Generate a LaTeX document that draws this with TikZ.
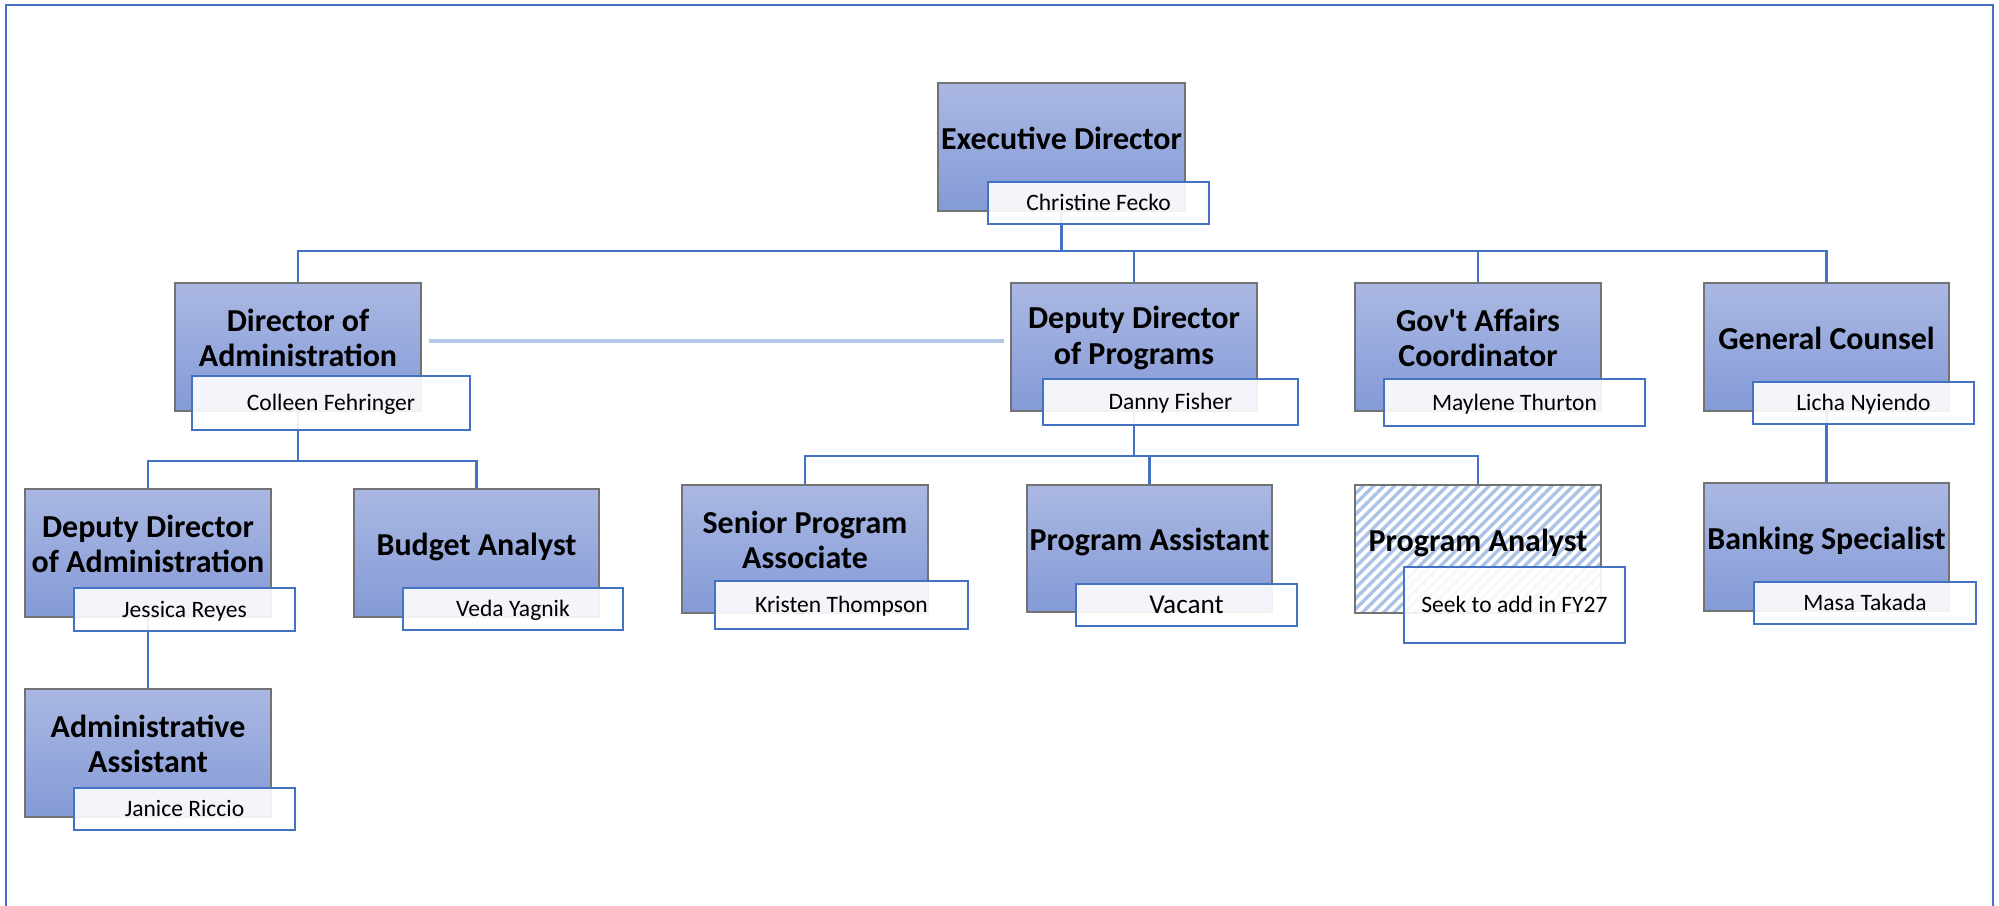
\documentclass[tikz,border=0pt]{standalone}
\usepackage{fontspec}
\setmainfont{Carlito}
\usetikzlibrary{fit,backgrounds}

\definecolor{linkblue}{RGB}{68,114,196}
\definecolor{paleblue}{RGB}{180,199,231}
\definecolor{boxtop}{RGB}{170,184,226}
\definecolor{boxbot}{RGB}{132,154,215}
\definecolor{boxedge}{RGB}{115,115,115}
\definecolor{stripeblue}{RGB}{172,194,231}

\begin{document}
\begin{tikzpicture}[x=0.02cm, y=-0.02cm,
  role/.style={inner sep=0pt, draw=boxedge, line width=0.025cm,
    top color=boxtop, bottom color=boxbot},
  openrole/.style={inner sep=0pt, draw=boxedge, line width=0.025cm, fill=white,
    path picture={
      \foreach \k in {0,...,40}
        \draw[stripeblue, line width=0.07cm]
          (path picture bounding box.south west) ++(\k*10.5-140,0) -- ++(145,-145);
    }},
  ttl/.style={font=\bfseries\fontsize{18.2}{20.2}\selectfont, align=center,
    inner sep=0pt, yshift=0.18cm},
  ttlone/.style={ttl, text depth=0pt},
  namebox/.style={inner sep=0pt, draw=linkblue, line width=0.026cm,
    fill=white, fill opacity=0.9},
  person/.style={inner sep=0pt, font=\fontsize{13.4}{16}\selectfont,
    text height=8.63pt, text depth=0pt},
  bigperson/.style={person, font=\fontsize{15.5}{18}\selectfont,
    text height=9.98pt},
  conn/.style={draw=linkblue, line width=0.052cm},
  link/.style={draw=paleblue, line width=0.08cm},
  frame/.style={draw=linkblue, line width=0.045cm},
]
\useasboundingbox (0,0) rectangle (1999,906);

% outer frame
\draw[frame] (6,912) -- (6,5) -- (1993,5) -- (1993,912);

% bus levels
\coordinate (topbus) at (0,251);
\coordinate (admbus) at (0,461);
\coordinate (progbus) at (0,456);

% top level
\node[role, fit={(938,83) (1185,211)}, label={[ttlone]center:Executive Director}] (ed) {};
\node[namebox, fit={(988,182) (1209,224)}, label={[person]center:Christine Fecko}] (edn) {};

% second level
\node[role, fit={(175,283) (421,411)}, label={[ttl]center:{Director of\\Administration}}] (da) {};
\node[namebox, fit={(192,376) (470,430)}, label={[person]center:Colleen Fehringer}] (dan) {};

\node[role, fit={(1011,283) (1257,411)}, label={[ttl]center:{Deputy Director\\of Programs}}] (ddp) {};
\node[namebox, fit={(1043,379) (1298,425)}, label={[person]center:Danny Fisher}] (ddpn) {};

\node[role, fit={(1355,283) (1601,411)}, label={[ttl]center:{Gov\textquotesingle t Affairs\\Coordinator}}] (ga) {};
\node[namebox, fit={(1384,379) (1645,426)}, label={[person]center:Maylene Thurton}] (gan) {};

\node[role, fit={(1704,283) (1949,411)}, label={[ttlone]center:General Counsel}] (gc) {};
\node[namebox, fit={(1753,382) (1974,424)}, label={[person]center:Licha Nyiendo}] (gcn) {};

% administration branch
\node[role, fit={(25,489) (271,617)}, label={[ttl]center:{Deputy Director\\of Administration}}] (dda) {};
\node[namebox, fit={(74,588) (295,631)}, label={[person]center:Jessica Reyes}] (ddan) {};

\node[role, fit={(354,489) (599,617)}, label={[ttlone]center:Budget Analyst}] (ba) {};
\node[namebox, fit={(403,588) (623,630)}, label={[person]center:Veda Yagnik}] (ban) {};

\node[role, fit={(25,689) (271,817)}, label={[ttl]center:{Administrative\\Assistant}}] (aa) {};
\node[namebox, fit={(74,788) (295,830)}, label={[person]center:Janice Riccio}] (aan) {};

% programs branch
\node[role, fit={(682,485) (928,613)}, label={[ttl]center:{Senior Program\\Associate}}] (spa) {};
\node[namebox, fit={(715,581) (968,629)}, label={[person]center:Kristen Thompson}] (span) {};

\node[role, fit={(1027,485) (1272,612)}, label={[ttlone]center:Program Assistant}] (pas) {};
\node[namebox, fit={(1076,584) (1297,626)}, label={[bigperson]center:Vacant}] (pasn) {};

\node[openrole, fit={(1355,485) (1601,613)}, label={[ttlone]center:Program Analyst}] (pan) {};
\node[namebox, fit={(1404,567) (1625,643)}, label={[person]center:Seek to add in FY27}] (pann) {};

% counsel branch
\node[role, fit={(1704,483) (1949,611)}, label={[ttlone]center:Banking Specialist}] (bs) {};
\node[namebox, fit={(1754,582) (1976,624)}, label={[person]center:Masa Takada}] (bsn) {};

% reporting lines
\begin{scope}[on background layer]
  \draw[conn] (ed.south) -- (ed.south |- topbus);
  \draw[conn] (da.north) -- (da.north |- topbus) -- (gc.north |- topbus) -- (gc.north);
  \draw[conn] (ddp.north) -- (ddp.north |- topbus);
  \draw[conn] (ga.north) -- (ga.north |- topbus);

  \draw[conn] (da.south) -- (da.south |- admbus);
  \draw[conn] (dda.north) -- (dda.north |- admbus) -- (ba.north |- admbus) -- (ba.north);
  \draw[conn] (dda.south) -- (aa.north);

  \draw[conn] (ddp.south) -- (ddp.south |- progbus);
  \draw[conn] (spa.north) -- (spa.north |- progbus) -- (pan.north |- progbus) -- (pan.north);
  \draw[conn] (pas.north) -- (pas.north |- progbus);

  \draw[conn] (gc.south) -- (bs.north);
\end{scope}

% coordination link between the two directors
\draw[link] ([xshift=0.14cm, yshift=0.12cm]da.east) -- ([xshift=-0.12cm, yshift=0.12cm]ddp.west);

\end{tikzpicture}
\end{document}
